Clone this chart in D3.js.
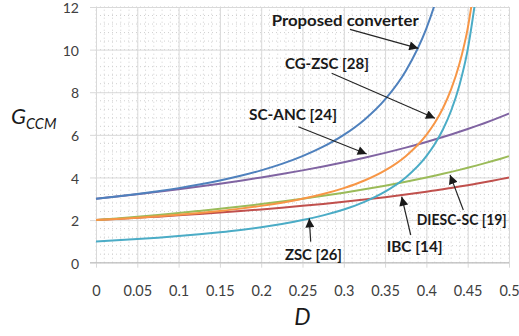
<!DOCTYPE html>
<html>
<head>
<meta charset="utf-8">
<script src="https://cdn.jsdelivr.net/npm/d3@7"></script>
<style>
  html, body { margin: 0; padding: 0; background: #fff; }
  svg { display: block; }
  text { font-family: Lato, "Open Sans", "DejaVu Sans", sans-serif; }
</style>
</head>
<body>
<svg id="chart" width="519" height="336"></svg>
<script>
// Duty ratio samples
const dutyRatio = [0, 0.025, 0.05, 0.075, 0.1, 0.125, 0.15, 0.175, 0.2, 0.225, 0.25,
  0.275, 0.3, 0.325, 0.35, 0.375, 0.4, 0.41, 0.42, 0.43, 0.44, 0.45, 0.46, 0.47, 0.48, 0.49, 0.5];

// Voltage gain of each converter (null = beyond the plotted range)
const proposedGain = [3, 3.105, 3.222, 3.353, 3.5, 3.667, 3.857, 4.077, 4.333, 4.636, 5,
  5.444, 6, 6.714, 7.667, 9, 11, 12.11, 13.5, null, null, null, null, null, null, null, null];
const cgzscGain = [2, 2.053, 2.111, 2.176, 2.25, 2.333, 2.429, 2.538, 2.667, 2.818, 3,
  3.222, 3.5, 3.857, 4.333, 5, 6, 6.556, 7.25, 8.143, 9.333, 11, 13.5, null, null, null, null];
const scancGain = [3, 3.103, 3.211, 3.324, 3.444, 3.571, 3.706, 3.848, 4, 4.161, 4.333,
  4.517, 4.714, 4.926, 5.154, 5.4, 5.667, 5.78, 5.897, 6.018, 6.143, 6.273, 6.407, 6.547, 6.692, 6.843, 7];
const diescGain = [2, 2.077, 2.158, 2.243, 2.333, 2.429, 2.529, 2.636, 2.75, 2.871, 3,
  3.138, 3.286, 3.444, 3.615, 3.8, 4, 4.085, 4.172, 4.263, 4.357, 4.455, 4.556, 4.66, 4.769, 4.882, 5];
const zscGain = [2, 2.051, 2.105, 2.162, 2.222, 2.286, 2.353, 2.424, 2.5, 2.581, 2.667,
  2.759, 2.857, 2.963, 3.077, 3.2, 3.333, 3.39, 3.448, 3.509, 3.571, 3.636, 3.704, 3.774, 3.846, 3.922, 4];
const ibcGain = [1, 1.053, 1.111, 1.176, 1.25, 1.333, 1.429, 1.538, 1.667, 1.818, 2,
  2.222, 2.5, 2.857, 3.333, 4, 5, 5.556, 6.25, 7.143, 8.333, 10, 12.5, null, null, null, null];

const xTicks = [0, 0.05, 0.1, 0.15, 0.2, 0.25, 0.3, 0.35, 0.4, 0.45, 0.5];
const yTicks = [0, 2, 4, 6, 8, 10, 12];

const series = [
  { name: "ZSC", values: zscGain, color: "#C0504D" },
  { name: "DIESC-SC", values: diescGain, color: "#9BBB59" },
  { name: "SC-ANC", values: scancGain, color: "#8064A2" },
  { name: "CG-ZSC", values: cgzscGain, color: "#F79646" },
  { name: "IBC", values: ibcGain, color: "#4BACC6" },
  { name: "Proposed", values: proposedGain, color: "#4F81BD" }
];

// Callouts, placed in data space: label start, arrow tail, arrow head; width is the label's run length
const callouts = [
  { text: "Proposed converter", at: [0.2127, 11.11], from: [0.3075, 10.95], to: [0.3902, 10.06], width: 147 },
  { text: "CG-ZSC [28]", at: [0.2288, 9.09], from: [0.2853, 8.89], to: [0.4104, 6.78], width: 84 },
  { text: "SC-ANC [24]", at: [0.1852, 6.70], from: [0.2449, 6.38], to: [0.3277, 5.10], width: 88 },
  { text: "ZSC [26]", at: [0.2288, 0.15], from: [0.2599, 0.99], to: [0.2582, 2.08], width: 57 },
  { text: "IBC [14]", at: [0.3519, 0.50], from: [0.381, 1.30], to: [0.3701, 3.10], width: 56 },
  { text: "DIESC-SC [19]", at: [0.3883, 1.77], from: [0.4447, 2.47], to: [0.4286, 4.12], width: 90 }
];

const svg = d3.select("#chart");
const margin = { left: 96, right: 10, top: 7, bottom: 73.3 };
const W = 519, H = 336;

const x = d3.scaleLinear().domain([0, 0.5]).range([margin.left, W - margin.right]);
const y = d3.scaleLinear().domain([0, 12]).range([H - margin.bottom, margin.top]);

// Minor dotted grid
const minorX = d3.range(0, 0.5001, 0.01);
const minorY = d3.range(0, 12.001, 0.4);
const grid = svg.append("g");
grid.selectAll("line.mx").data(minorX).join("line")
  .attr("x1", d => x(d)).attr("x2", d => x(d))
  .attr("y1", y(0)).attr("y2", y(12))
  .attr("stroke", "#d0d0d0").attr("stroke-width", 1).attr("stroke-dasharray", "1,3");
grid.selectAll("line.my").data(minorY).join("line")
  .attr("x1", x(0)).attr("x2", x(0.5))
  .attr("y1", d => y(d)).attr("y2", d => y(d))
  .attr("stroke", "#d0d0d0").attr("stroke-width", 1).attr("stroke-dasharray", "1,3");

// Major grid with axes
const xAxis = d3.axisBottom(x).tickValues(xTicks).tickFormat(d => String(d))
  .tickSize(-(y(0) - y(12))).tickPadding(0);
const gx = svg.append("g").attr("transform", `translate(0,${y(0)})`).call(xAxis);
gx.select(".domain").remove();
gx.selectAll(".tick line").attr("stroke", "#d9d9d9").attr("y1", 5);
gx.selectAll(".tick text").attr("y", 23).attr("fill", "#404040")
  .style("font-size", "14.5px");

const yAxis = d3.axisLeft(y).tickValues(yTicks).tickFormat(d => String(d))
  .tickSize(-(x(0.5) - x(0))).tickPadding(0);
const gy = svg.append("g").attr("transform", `translate(${x(0)},0)`).call(yAxis);
gy.select(".domain").remove();
gy.selectAll(".tick line").attr("stroke", "#d9d9d9").attr("x1", -6);
gy.selectAll(".tick text").attr("x", -17).attr("dy", "0.4em").attr("fill", "#404040")
  .style("font-size", "14px");

// Bottom axis line
svg.append("line")
  .attr("x1", x(0) - 6).attr("x2", x(0.5))
  .attr("y1", y(0)).attr("y2", y(0))
  .attr("stroke", "#bfbfbf").attr("stroke-width", 1);

// Curves clipped to the plot area
svg.append("clipPath").attr("id", "plotClip").append("rect")
  .attr("x", x(0)).attr("y", y(12))
  .attr("width", x(0.5) - x(0)).attr("height", y(0) - y(12));

const line = d3.line()
  .defined(d => d[1] !== null)
  .x(d => x(d[0])).y(d => y(d[1]))
  .curve(d3.curveMonotoneX);

svg.append("g").attr("clip-path", "url(#plotClip)")
  .selectAll("path").data(series).join("path")
  .attr("d", s => line(dutyRatio.map((dv, i) => [dv, s.values[i]])))
  .attr("fill", "none")
  .attr("stroke", s => s.color)
  .attr("stroke-width", 2);

// Arrowhead marker
svg.append("defs").append("marker")
  .attr("id", "arrow").attr("viewBox", "0 0 10 10")
  .attr("refX", 10).attr("refY", 5)
  .attr("markerWidth", 10).attr("markerHeight", 9)
  .attr("markerUnits", "userSpaceOnUse")
  .attr("orient", "auto")
  .append("path").attr("d", "M0,0 L10,5 L0,10 Z").attr("fill", "#1a1a1a");

const notes = svg.append("g");
notes.selectAll("line").data(callouts).join("line")
  .attr("x1", d => x(d.from[0])).attr("y1", d => y(d.from[1]))
  .attr("x2", d => x(d.to[0])).attr("y2", d => y(d.to[1]))
  .attr("stroke", "#262626").attr("stroke-width", 1.2)
  .attr("marker-end", "url(#arrow)");
notes.selectAll("text").data(callouts).join("text")
  .attr("x", d => x(d.at[0])).attr("y", d => y(d.at[1]))
  .attr("textLength", d => d.width).attr("lengthAdjust", "spacingAndGlyphs")
  .attr("fill", "#1a1a1a")
  .style("font-size", "15px").style("font-weight", "bold")
  .text(d => d.text);

// Axis titles
const yt = svg.append("text").attr("x", 11).attr("y", 123.5)
  .attr("fill", "#1a1a1a").style("font-style", "italic");
yt.append("tspan").style("font-size", "22px").text("G");
yt.append("tspan").attr("dy", 5).style("font-size", "14.5px").text("CCM");

svg.append("text").attr("x", x(0.25)).attr("y", 325)
  .attr("text-anchor", "middle").attr("fill", "#1a1a1a")
  .style("font-style", "italic").style("font-size", "23px").text("D");
</script>
</body>
</html>
